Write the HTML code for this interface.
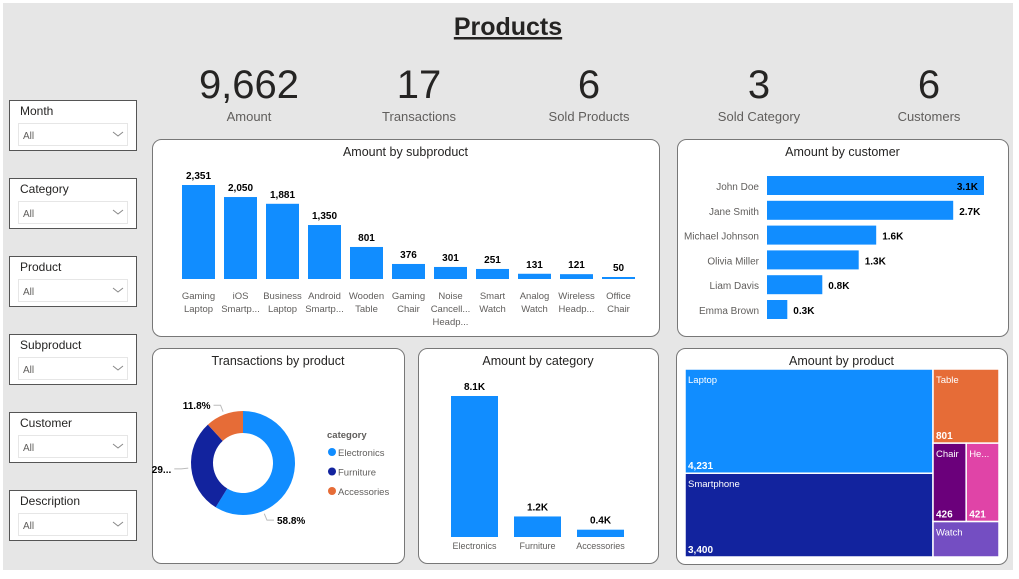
<!DOCTYPE html>
<html><head><meta charset="utf-8"><style>
body{margin:0;width:1019px;height:574px;background:#fff;overflow:hidden;font-family:"Liberation Sans",sans-serif}
svg text{font-family:"Liberation Sans",sans-serif}
</style></head><body>
<svg id="s" width="1019" height="574" xmlns="http://www.w3.org/2000/svg">
<rect x="3" y="3" width="1010" height="567" fill="#e6e6e6"/>
<text x="508" y="35" font-size="25" font-weight="bold" text-anchor="middle" fill="#252423" text-decoration="underline">Products</text>
<g id="kpis"></g><g id="slicers"></g>
<g id="panels"></g>
<g id="sub"></g><g id="cust"></g><g id="donut"></g><g id="cat"></g><g id="tree"></g>
</svg>
<script>
const NS="http://www.w3.org/2000/svg";
function mk(p,tag,a,txt){const e=document.createElementNS(NS,tag);for(const k in a)e.setAttribute(k,a[k]);if(txt!==undefined)e.textContent=txt;p.appendChild(e);return e;}
const $=id=>document.getElementById(id);

// KPI data
const kpiValues=["9,662","17","6","3","6"];
const kpiLabels=["Amount","Transactions","Sold Products","Sold Category","Customers"];
kpiValues.forEach((v,i)=>{const x=249+i*170;
 let t=mk($('kpis'),'text',{x:x,y:98,'font-size':40,'text-anchor':'middle',fill:'#252423'},v);
 
 
 let l=mk($('kpis'),'text',{x:x,y:121,'font-size':13,'text-anchor':'middle',fill:'#605e5c'},kpiLabels[i]);
 
 
});

// Slicers
const slicerNames=["Month","Category","Product","Subproduct","Customer","Description"];
slicerNames.forEach((n,i)=>{const y=100+i*78;const g=mk($('slicers'),'g',{});
 
 
 mk(g,'rect',{x:9.5,y:y+.5,width:127,height:50,fill:'#fff',stroke:'#555','stroke-width':1});
 mk(g,'text',{x:20,y:y+15,'font-size':12,fill:'#252423'},n);
 mk(g,'rect',{x:18.5,y:y+23.5,width:109,height:22,fill:'#fff',stroke:'#e6e6e6'});
 mk(g,'text',{x:23,y:y+39,'font-size':10,fill:'#605e5c'},'All');
 mk(g,'path',{d:`M${113} ${y+32} l5 4 l5 -4`,fill:'none',stroke:'#888','stroke-width':1});
});

// Panels
const panels=[["subproduct-panel",152,139,507,197,"Amount by subproduct"],["customer-panel",677,139,331,197,"Amount by customer"],["transactions-panel",152,348,252,215,"Transactions by product"],["category-panel",418,348,240,215,"Amount by category"],["product-panel",676,348,331,216,"Amount by product"]];
panels.forEach(p=>{const g=mk($('panels'),'g',{});
 
 
 mk(g,'rect',{x:p[1]+.5,y:p[2]+.5,width:p[3],height:p[4],rx:9,fill:'#fff',stroke:'#777'});
 mk(g,'text',{x:p[1]+p[3]/2,y:p[2]+17,'font-size':12.5,'text-anchor':'middle',fill:'#252423'},p[5]);
});

// Subproduct chart
const subCats=[["Gaming","Laptop"],["iOS","Smartp..."],["Business","Laptop"],["Android","Smartp..."],["Wooden","Table"],["Gaming","Chair"],["Noise","Cancell...","Headp..."],["Smart","Watch"],["Analog","Watch"],["Wireless","Headp..."],["Office","Chair"]];
const subValues=[2351,2050,1881,1350,801,376,301,251,131,121,50];
(function(){const base=279,k=94/2351,g=$('sub');
 subValues.forEach((v,i)=>{const cx=198.5+i*42,h=v*k;
  let r=mk(g,'rect',{x:cx-16.5,y:base-h,width:33,height:h,fill:'#118dff'});
  
  
  mk(g,'text',{x:cx,y:base-h-6,'font-size':10,'font-weight':'bold','text-anchor':'middle',fill:'#000'},v.toLocaleString('en-US'));
  subCats[i].forEach((l,j)=>mk(g,'text',{x:cx,y:299+j*13,'font-size':9.5,'text-anchor':'middle',fill:'#605e5c'},l));
 });})();

// Customer chart
const custNames=["John Doe","Jane Smith","Michael Johnson","Olivia Miller","Liam Davis","Emma Brown"];
const custValues=[3100,2660,1560,1310,790,290];
(function(){const g=$('cust'),x0=767,k=217/3100;
 custValues.forEach((v,i)=>{const y=176+i*24.8,w=v*k;
  let r=mk(g,'rect',{x:x0,y:y,width:w,height:19,fill:'#118dff'});
  
  
  mk(g,'text',{x:x0-8,y:y+14,'font-size':10,'text-anchor':'end',fill:'#605e5c'},custNames[i]);
  const lbl=(v/1000).toFixed(1)+'K';
  if(i===0) mk(g,'text',{x:x0+w-6,y:y+14,'font-size':10,'font-weight':'bold','text-anchor':'end',fill:'#000'},lbl);
  else mk(g,'text',{x:x0+w+6,y:y+14,'font-size':10,'font-weight':'bold',fill:'#000'},lbl);
 });})();

// Donut
const donutCats=["Electronics","Furniture","Accessories"];
const donutValues=[58.8,29.4,11.8];
const donutColors=["#118dff","#12239e","#e66c37"];
(function(){const g=$('donut'),cx=243,cy=463,R=52,r=30;let a=-Math.PI/2;const tot=donutValues.reduce((s,v)=>s+v,0);
 donutValues.forEach((v,i)=>{const b=a+v/tot*2*Math.PI,lg=(b-a)>Math.PI?1:0;
  const p=(rad,ang)=>[cx+rad*Math.cos(ang),cy+rad*Math.sin(ang)];
  const [x1,y1]=p(R,a),[x2,y2]=p(R,b),[x3,y3]=p(r,b),[x4,y4]=p(r,a);
  let s=mk(g,'path',{d:`M${x1} ${y1}A${R} ${R} 0 ${lg} 1 ${x2} ${y2}L${x3} ${y3}A${r} ${r} 0 ${lg} 0 ${x4} ${y4}Z`,fill:donutColors[i]});
  
  
  // first (largest) slice label is placed near its end, like Power BI
  const m=(i===0)?(b-0.95):(a+b)/2;
  const [lx,ly]=p(R+3,m),right=Math.cos(m)>=0;
  const [ox,oy]=p(R+10,m);const ex=ox+(right?7:-7);
  mk(g,'path',{d:`M${lx} ${ly}L${ox} ${oy}L${ex} ${oy}`,stroke:'#bbb',fill:'none'});
  let t=(i===1)?Math.round(v)+'...':v.toFixed(1)+'%';
  mk(g,'text',{x:ex+(right?3:-3),y:oy+4,'font-size':10,'font-weight':'bold','text-anchor':right?'start':'end',fill:'#000'},t);
  a=b;
 });
 mk(g,'text',{x:327,y:438,'font-size':9.5,'font-weight':'bold',fill:'#605e5c'},'category');
 donutCats.forEach((c,i)=>{const y=455+i*19.5;
  let e=mk(g,'g',{});
  
  
  mk(e,'circle',{cx:332,cy:y-3,r:4,fill:donutColors[i]});
  mk(e,'text',{x:338,y:y+1,'font-size':9.5,fill:'#605e5c'},c);
 });})();

// Category chart
const catNames=["Electronics","Furniture","Accessories"];
const catValues=[8100,1180,420];
(function(){const g=$('cat'),base=537,k=141/8100;
 catValues.forEach((v,i)=>{const x=451+i*63,h=v*k;
  let r=mk(g,'rect',{x:x,y:base-h,width:47,height:h,fill:'#118dff'});
  
  
  mk(g,'text',{x:x+23.5,y:base-h-6,'font-size':10,'font-weight':'bold','text-anchor':'middle',fill:'#000'},(v/1000).toFixed(1)+'K');
  mk(g,'text',{x:x+23.5,y:549,'font-size':9,'text-anchor':'middle',fill:'#605e5c'},catNames[i]);
 });})();

// Treemap
const treeNames=["Laptop","Smartphone","Table","Chair","He...","Watch"];
const treeValues=[4231,3400,801,426,421,383];
const treeColors=["#118dff","#12239e","#e66c37","#6b007b","#e044a7","#744ec2"];
(function(){const g=$('tree'),X=685,Y=369,W=314,H=188;const tot=treeValues.reduce((s,v)=>s+v,0);
 const L=treeValues[0]+treeValues[1],lw=W*L/tot,Rt=tot-L,rw=W-lw;const rects=[];
 const h0=H*treeValues[0]/L; rects.push([X,Y,lw,h0],[X,Y+h0,lw,H-h0]);
 const hT=H*treeValues[2]/Rt,hM=H*(treeValues[3]+treeValues[4])/Rt,cw=rw*treeValues[3]/(treeValues[3]+treeValues[4]);
 rects.push([X+lw,Y,rw,hT],[X+lw,Y+hT,cw,hM],[X+lw+cw,Y+hT,rw-cw,hM],[X+lw,Y+hT+hM,rw,H-hT-hM]);
 rects.forEach((r,i)=>{
  let e=mk(g,'rect',{x:r[0],y:r[1],width:r[2],height:r[3],fill:treeColors[i],stroke:'#fff','stroke-width':1.5});
  
  
  mk(g,'text',{x:r[0]+3,y:r[1]+14,'font-size':9.5,fill:'#fff'},treeNames[i]);
  if(i!==5) mk(g,'text',{x:r[0]+3,y:r[1]+r[3]-4,'font-size':10,'font-weight':'bold',fill:'#fff'},treeValues[i].toLocaleString('en-US'));
 });})();
</script>
</body></html>
